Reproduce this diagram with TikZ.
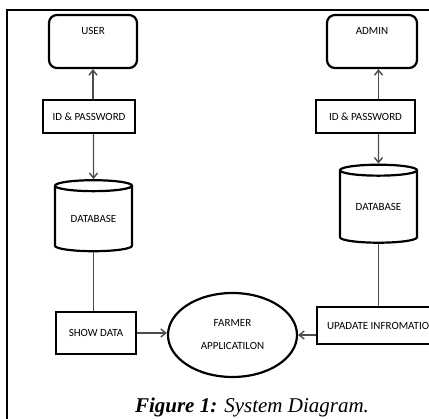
\documentclass[tikz,border=0pt]{standalone}
\usepackage{fontspec}
\setmainfont{Liberation Serif}
\newfontfamily\boxfont{Carlito}
\usetikzlibrary{shapes.geometric,arrows.meta}

\begin{document}
\begin{tikzpicture}[x=1pt, y=-1pt, inner sep=0pt,
  box/.style={draw, line width=2.2pt, font=\boxfont\fontsize{11}{13}\selectfont},
  userbox/.style={box, rounded corners=8pt, minimum height=53, text height=7pt, text depth=20pt},
  dbase/.style={box, cylinder, shape border rotate=90, aspect=0.24},
  conn/.style={line width=1.4pt, draw=black!70},
  >={Straight Barb[length=5pt,width=8pt]}]
\useasboundingbox (0,0) rectangle (429,419);
\clip (0,0) rectangle (429,419);
\draw[line width=1.3pt] (7,419) -- (7,10) -- (429,10);

\node[userbox, minimum width=88] (user) at (93,41.5) {USER};
\node[userbox, minimum width=90] (admin) at (372,41.5) {ADMIN};
\node[box, minimum width=92, minimum height=33] (id1) at (89,116.5) {ID \& PASSWORD};
\node[box, minimum width=99, minimum height=33] (id2) at (365.5,116.5) {ID \& PASSWORD};
\node[dbase, minimum width=77, minimum height=71] (db1) at (93.5,219) {DATABASE};
\node[dbase, minimum width=77, minimum height=78] (db2) at (378.5,207) {DATABASE};
\node[box, minimum width=80, minimum height=42] (show) at (96,333) {SHOW DATA};
\node[box, minimum height=37, inner xsep=10pt, anchor=west] (upd) at (316,325.5) {UPADATE INFROMATION};
\node[box, ellipse, minimum width=129, minimum height=84, align=center] (app) at (232.5,335) {FARMER\\[10pt]APPLICATILON};

\draw[conn,->] (id1.north -| user) -- (user.south);
\draw[conn,->] (id1.south -| db1) -- (db1.north);
\draw[conn] (db1.south) -- (db1.south |- show.north);
\draw[conn,->] (show.east) -- (show.east -| app.west);

\draw[conn,->] (id2.north -| db2) -- (admin.south -| db2);
\draw[conn,->] (id2.south -| db2) -- (db2.north);
\draw[conn] (db2.south) -- (db2.south |- upd.north);
\draw[conn,->] (upd.west |- app.east) -- (app.east);

\node[anchor=base, font=\fontsize{21}{24}\selectfont] (cap) at (252,413) {\textbf{\textit{Figure 1:}} \textit{System Diagram.}};
\end{tikzpicture}
\end{document}
